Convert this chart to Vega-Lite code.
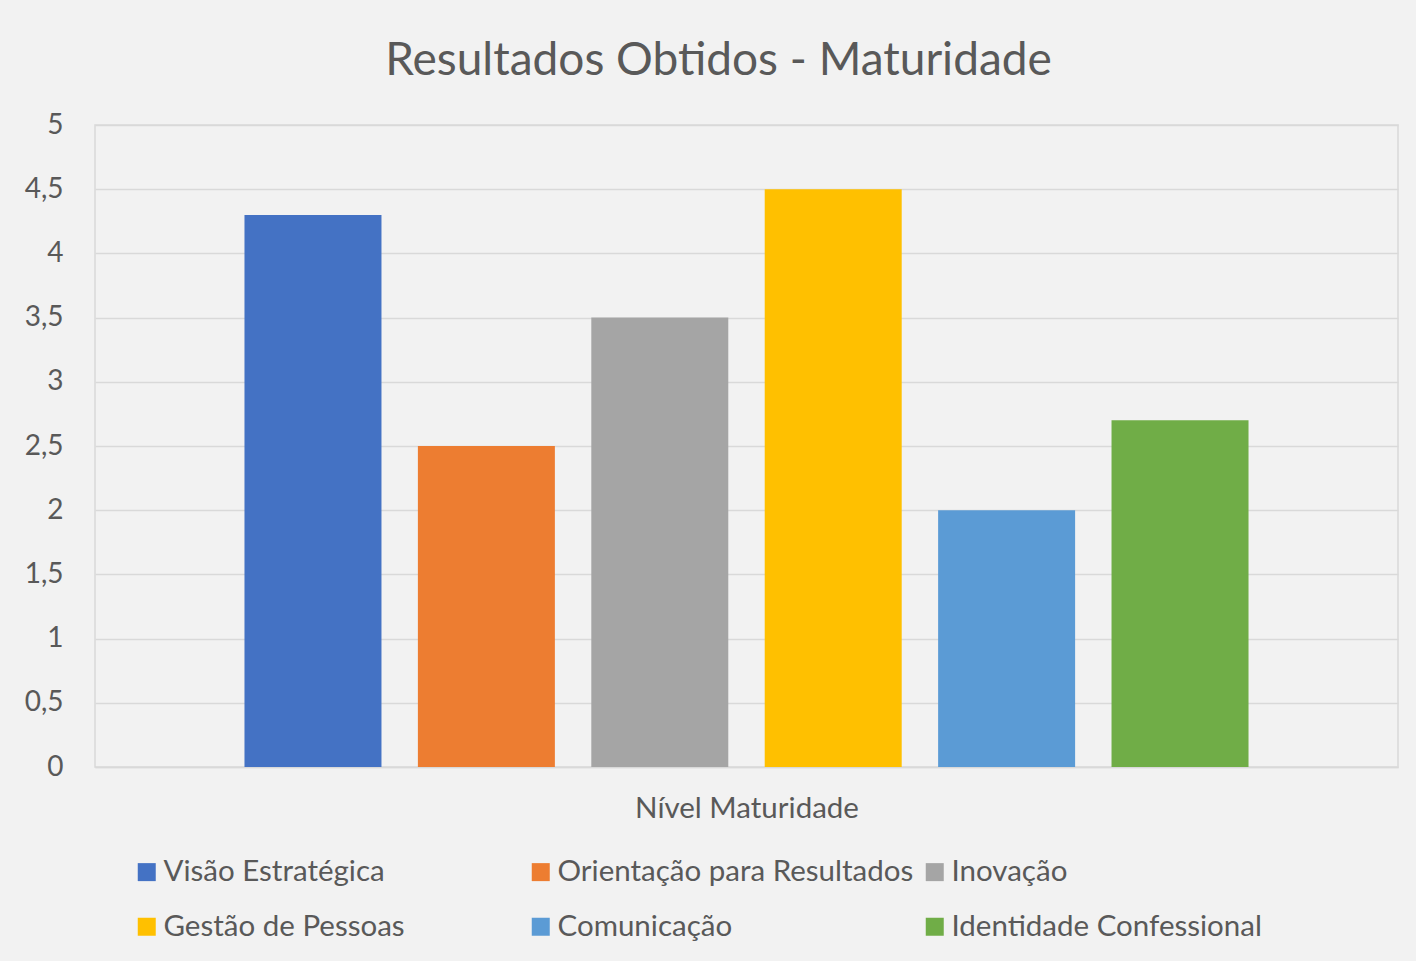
{
  "$schema": "https://vega.github.io/schema/vega-lite/v6.json",
  "width": 1303,
  "height": 642,
  "autosize": "none",
  "padding": {"left": 95, "top": 125, "right": 18, "bottom": 194},
  "background": "#f2f2f2",
  "title": {
    "text": "Resultados Obtidos - Maturidade",
    "anchor": "middle",
    "dx": -28,
    "offset": 26,
    "font": "Lato",
    "fontSize": 46,
    "fontWeight": "normal",
    "color": "#595959"
  },
  "data": {
    "values": [
      {"categoria": "Visão Estratégica", "valor": 4.3},
      {"categoria": "Orientação para Resultados", "valor": 2.5},
      {"categoria": "Inovação", "valor": 3.5},
      {"categoria": "Gestão de Pessoas", "valor": 4.5},
      {"categoria": "Comunicação", "valor": 2.0},
      {"categoria": "Identidade Confessional", "valor": 2.7}
    ]
  },
  "mark": {"type": "bar"},
  "encoding": {
    "x": {
      "field": "categoria",
      "type": "nominal",
      "sort": null,
      "scale": {"paddingInner": 0.21, "paddingOuter": 0.862},
      "axis": {
        "labels": false,
        "ticks": false,
        "domain": true,
        "domainColor": "#d9d9d9",
        "domainWidth": 1.5,
        "title": "Nível Maturidade",
        "titleFont": "Lato",
        "titleFontSize": 29.5,
        "titleFontWeight": "normal",
        "titleColor": "#595959",
        "titlePadding": 27
      }
    },
    "y": {
      "field": "valor",
      "type": "quantitative",
      "scale": {"domain": [0, 5], "nice": false},
      "axis": {
        "values": [0, 0.5, 1, 1.5, 2, 2.5, 3, 3.5, 4, 4.5, 5],
        "labelExpr": "replace(format(datum.value, '~g'), '.', ',')",
        "title": null,
        "domain": false,
        "ticks": false,
        "grid": true,
        "gridColor": "#d9d9d9",
        "gridWidth": 1.5,
        "labelFont": "Lato",
        "labelFontSize": 28,
        "labelColor": "#595959",
        "labelPadding": 32
      }
    },
    "color": {
      "field": "categoria",
      "type": "nominal",
      "sort": null,
      "scale": {
        "domain": ["Visão Estratégica", "Orientação para Resultados", "Inovação", "Gestão de Pessoas", "Comunicação", "Identidade Confessional"],
        "range": ["#4472c4", "#ed7d31", "#a5a5a5", "#ffc000", "#5b9bd5", "#70ad47"]
      },
      "legend": {
        "title": null,
        "orient": "none",
        "legendX": 37,
        "legendY": 732,
        "padding": 0,
        "direction": "horizontal",
        "columns": 3,
        "gridAlign": "all",
        "columnPadding": 6,
        "rowPadding": 24,
        "symbolType": "square",
        "symbolSize": 324,
        "symbolStrokeWidth": 0,
        "symbolOpacity": 1,
        "labelOffset": 2,
        "labelFont": "Lato",
        "labelFontSize": 29.5,
        "labelColor": "#595959",
        "labelLimit": 500
      }
    }
  },
  "config": {
    "view": {"stroke": "#d9d9d9", "strokeWidth": 1.5}
  }
}
